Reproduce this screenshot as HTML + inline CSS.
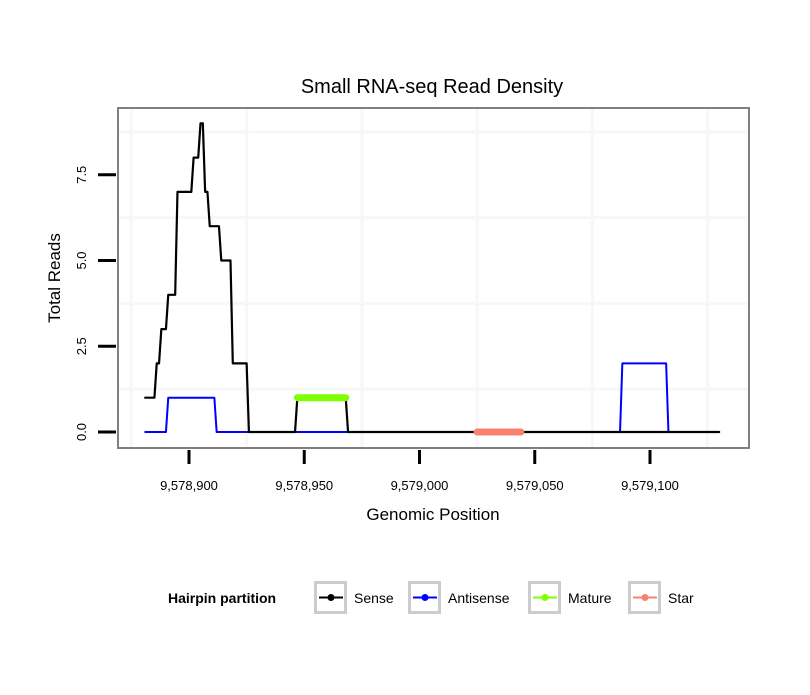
<!DOCTYPE html>
<html><head><meta charset="utf-8"><style>
body{margin:0;background:#fff;}
svg text{font-family:"Liberation Sans",sans-serif;}
</style></head><body>
<svg id="chart" width="810" height="690" xmlns="http://www.w3.org/2000/svg">
<rect width="810" height="690" fill="#fff"/>
<text x="432" y="93" font-size="20" text-anchor="middle">Small RNA-seq Read Density</text>
<g id="grid"></g>
<g id="series"></g>
<rect x="118" y="108" width="631" height="340" fill="none" stroke="#808080" stroke-width="2"/>
<g id="axes"></g>
<text x="433" y="520" font-size="17" text-anchor="middle">Genomic Position</text>
<text transform="translate(60,278) rotate(-90)" font-size="17" text-anchor="middle">Total Reads</text>
<g>
<text x="168" y="603" font-size="14" font-weight="bold">Hairpin partition</text>
<g id="legend"></g>
</g>
</svg>
<script>
const sensePos=[9578881,9578885,9578886,9578887,9578888,9578889,9578890,9578891,9578894,9578895,9578901,9578902,9578904,9578905,9578906,9578907,9578908,9578909,9578913,9578914,9578918,9578919,9578925,9578926,9578946,9578947,9578968,9578969,9579130];
const senseVal=[1,1,2,2,3,3,3,4,4,7,7,8,8,9,9,7,7,6,6,5,5,2,2,0,0,1,1,0,0];
const antiPos=[9578881,9578890,9578891,9578911,9578912,9579087,9579088,9579107,9579108,9579130];
const antiVal=[0,0,1,1,0,0,2,2,0,0];
const maturePos=[9578947,9578968];
const matureVal=[1,1];
const starPos=[9579025,9579044];
const starVal=[0,0];
const xTicks=[9578900,9578950,9579000,9579050,9579100];
const xTickLabels=["9,578,900","9,578,950","9,579,000","9,579,050","9,579,100"];
const yTicks=[0,2.5,5,7.5];
const yTickLabels=["0.0","2.5","5.0","7.5"];
const legendLabels=["Sense","Antisense","Mature","Star"];
const legendColors=["#000000","#0000ff","#7fff00","#fa8072"];

const X=v=>189+(v-9578900)*2.305;
const Y=v=>432-v*34.3;
const NS="http://www.w3.org/2000/svg";
function mk(tag,attrs,parent){const e=document.createElementNS(NS,tag);for(const k in attrs)e.setAttribute(k,attrs[k]);parent.appendChild(e);return e;}
const grid=document.getElementById('grid'),ser=document.getElementById('series'),ax=document.getElementById('axes'),leg=document.getElementById('legend');
mk('rect',{x:118,y:108,width:631,height:340,fill:'#fff'},grid);
for(let i=-1;i<xTicks.length;i++){const gx=X(xTicks[0]+25+i*50);if(gx>118&&gx<749){const l=mk('line',{x1:gx,x2:gx,y1:109,y2:447,stroke:'#f7f7f7','stroke-width':3},grid);

}}
for(let i=0;i<4;i++){const gy=Y(1.25+i*2.5);const l=mk('line',{x1:119,x2:748,y1:gy,y2:gy,stroke:'#f7f7f7','stroke-width':3},grid);

}
function line(pos,val,color,w,name){const p=mk('polyline',{points:pos.map((v,i)=>X(v)+','+Y(val[i])).join(' '),fill:'none',stroke:color,'stroke-width':w,'stroke-linecap':'round','stroke-linejoin':'round'},ser);

}
line(antiPos,antiVal,'#0000ff',2,'antisense-line');
line(sensePos,senseVal,'#000000',2.2,'sense-line');
line(maturePos,matureVal,'#7fff00',7,'mature-line');
line(starPos,starVal,'#fa8072',7,'star-line');
xTicks.forEach((t,i)=>{const x=X(t);mk('line',{x1:x,x2:x,y1:450,y2:464,stroke:'#000','stroke-width':3},ax);
const tx=mk('text',{x:x,y:490,'font-size':13,'text-anchor':'middle'},ax);tx.textContent=xTickLabels[i];

});
yTicks.forEach((t,i)=>{const y=Y(t);mk('line',{x1:98,x2:116,y1:y,y2:y,stroke:'#000','stroke-width':3},ax);
const tx=mk('text',{transform:`translate(86,${y}) rotate(-90)`,'font-size':13,'text-anchor':'middle'},ax);tx.textContent=yTickLabels[i];

});
const boxX=[314,408,528,628];
legendLabels.forEach((lab,i)=>{const g=mk('g',{},leg);


const bx=boxX[i];mk('rect',{x:bx+1.5,y:582.5,width:30,height:30,fill:'#fff',stroke:'#cccccc','stroke-width':3},g);
mk('line',{x1:bx+5,x2:bx+29,y1:597.5,y2:597.5,stroke:legendColors[i],'stroke-width':2},g);
mk('circle',{cx:bx+17,cy:597.5,r:3.5,fill:legendColors[i]},g);
const t=mk('text',{x:bx+40,y:603,'font-size':14},g);t.textContent=lab;});
</script>
</body></html>
